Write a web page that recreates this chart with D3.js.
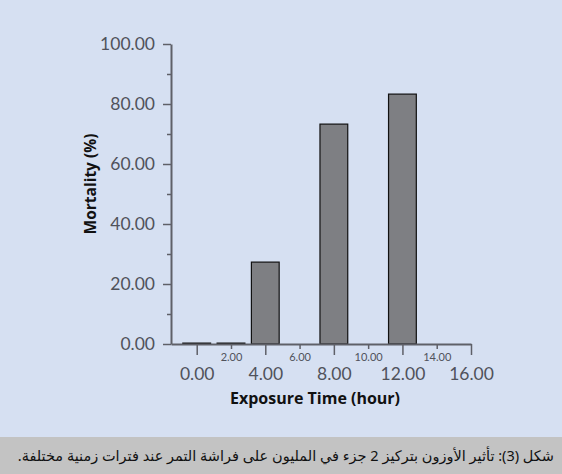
<!DOCTYPE html>
<html><head><meta charset="utf-8">
<script src="https://cdn.jsdelivr.net/npm/d3@7"></script>
<style>
html,body{margin:0;padding:0;background:#d6e0f2;}
svg{display:block;}
</style></head>
<body>
<script>
const exposureTimes = [0, 2, 4, 8, 12];
const mortality = [0.3, 0.3, 27.3, 73.3, 83.3];
const yTicksMajor = [0, 20, 40, 60, 80, 100];
const yTicksMinor = [10, 30, 50, 70, 90];
const xTicksMajor = [0, 4, 8, 12, 16];
const xTicksMinor = [2, 6, 10, 14];
const yTitle = "Mortality (%)";
const xTitle = "Exposure Time (hour)";
const caption = "شكل (3): تأثير الأوزون بتركيز 2 جزء في المليون على فراشة التمر عند فترات زمنية مختلفة.";

const W = 562, H = 474;
const svg = d3.select("body").append("svg").attr("width", W).attr("height", H);
svg.append("rect").attr("width", W).attr("height", H).attr("fill", "#d6e0f2");

const x = d3.scaleLinear().domain([-1.5, 16]).range([171, 471]);
const y = d3.scaleLinear().domain([0, 100]).range([344, 44]);
const axisColor = "#5f6068";
const font = "Lato, 'Open Sans', sans-serif";
const tickColor = "#50525b";

// bars
const barW = x(1.62) - x(0);
svg.append("g").selectAll("rect").data(exposureTimes).join("rect")
  .attr("x", (d) => x(d) - barW / 2)
  .attr("width", barW)
  .attr("y", (d, i) => y(mortality[i]))
  .attr("height", (d, i) => y(0) - y(mortality[i]))
  .attr("fill", "#7e7f83")
  .attr("stroke", "#111")
  .attr("stroke-width", 1.2);

// y axis
const gy = svg.append("g").attr("transform", `translate(${x(-1.5)},0)`);
gy.call(d3.axisLeft(y).tickValues(yTicksMajor).tickSize(8).tickPadding(8).tickFormat(d3.format(".2f")).tickSizeOuter(0));
gy.selectAll(".tick line").attr("stroke", axisColor).attr("stroke-width", 1.5);
gy.select(".domain").attr("stroke", axisColor).attr("stroke-width", 2);
gy.selectAll(".tick text").attr("font-family", font).attr("font-weight", 400).attr("font-size", 17.5).attr("fill", tickColor);
const gy2 = svg.append("g").attr("transform", `translate(${x(-1.5)},0)`);
gy2.call(d3.axisLeft(y).tickValues(yTicksMinor).tickSize(4).tickFormat(""));
gy2.select(".domain").remove();
gy2.selectAll(".tick line").attr("stroke", axisColor).attr("stroke-width", 1.5);

// x axis
const gx = svg.append("g").attr("transform", `translate(0,${y(0)})`);
gx.call(d3.axisBottom(x).tickValues(xTicksMajor).tickSize(11).tickPadding(13).tickFormat(d3.format(".2f")).tickSizeOuter(0));
gx.select(".domain").attr("stroke", axisColor).attr("stroke-width", 2);
gx.selectAll(".tick line").attr("stroke", axisColor).attr("stroke-width", 1.5);
gx.selectAll(".tick text").attr("font-family", font).attr("font-weight", 400).attr("font-size", 17.5).attr("fill", tickColor);
const gx2 = svg.append("g").attr("transform", `translate(0,${y(0)})`);
gx2.call(d3.axisBottom(x).tickValues(xTicksMinor).tickSize(5).tickPadding(4).tickFormat(d3.format(".2f")));
gx2.select(".domain").remove();
gx2.selectAll(".tick line").attr("stroke", axisColor).attr("stroke-width", 1.5);
gx2.selectAll(".tick text").attr("font-family", font).attr("font-weight", 400).attr("font-size", 11).attr("fill", tickColor);

// titles
svg.append("text").attr("transform", "translate(96,184) rotate(-90)")
  .attr("text-anchor", "middle").attr("font-family", "'Open Sans', sans-serif").attr("font-weight", "bold")
  .attr("font-size", 15.5).attr("fill", "#111").text(yTitle);
svg.append("text").attr("x", 315).attr("y", 404)
  .attr("text-anchor", "middle").attr("font-family", "'Open Sans', sans-serif").attr("font-weight", "bold")
  .attr("font-size", 16).attr("fill", "#111").text(xTitle);

// caption band
svg.append("rect").attr("x", 0).attr("y", 437).attr("width", W).attr("height", H - 437).attr("fill", "#c3c3c3");
svg.append("text").attr("x", 554).attr("y", 461).attr("text-anchor", "start").attr("direction", "rtl")
  .attr("font-family", "'Noto Sans', 'DejaVu Sans', sans-serif").attr("font-size", 14.5).attr("fill", "#111")
  .text(caption);
</script>
</body></html>
